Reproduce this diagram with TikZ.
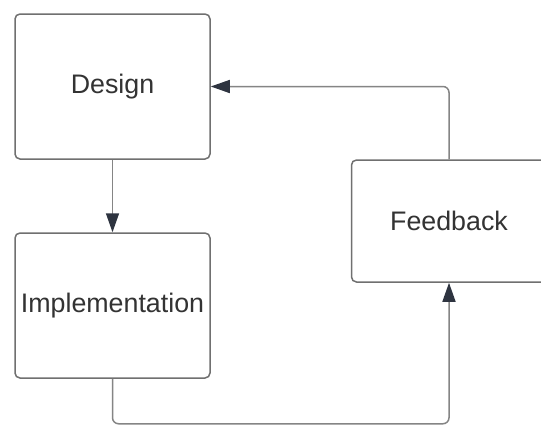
\documentclass[tikz,border=0pt]{standalone}
\usepackage{fontspec}
\setmainfont{Liberation Sans}
\usetikzlibrary{arrows.meta}
\definecolor{boxline}{HTML}{707070}
\definecolor{wire}{HTML}{858585}
\definecolor{tipcol}{HTML}{2E3440}
\definecolor{ink}{HTML}{333333}

\begin{document}
\begin{tikzpicture}[x=1pt,y=-1pt,
  stage/.style={draw=boxline, line width=1.5pt, rounded corners=5pt, fill=white,
    inner sep=0pt, font=\fontsize{26.8}{30}\selectfont, text=ink},
  flow/.style={draw=wire, line width=1.5pt, rounded corners=6pt,
    -{Triangle[length=19pt,width=13pt,color=tipcol]}}]
  % canvas
  \fill[white] (0,0) rectangle (541,426);
  \useasboundingbox (0,0) rectangle (541,426);
  \clip (0,0) rectangle (541,426);

  % stages
  \node[stage, minimum width=195pt, minimum height=145pt] (design) at (112.5,86.5) {Design};
  \node[stage, minimum width=195pt, minimum height=145pt] (impl) at (112.5,305.5) {Implementation};
  \node[stage, minimum width=195pt, minimum height=122pt] (feedback) at (449,221) {Feedback};

  % connectors
  \draw[flow] (design.south) -- (impl.north);
  \draw[flow] (feedback.north) |- (design.east);
  \draw[flow] (impl.south) -- ++(0,45) -| (feedback.south);
\end{tikzpicture}
\end{document}
